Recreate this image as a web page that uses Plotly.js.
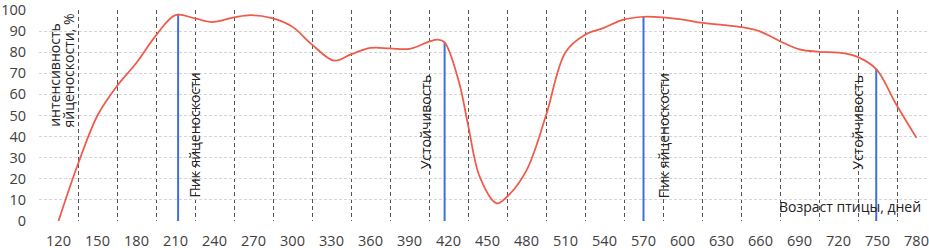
<!DOCTYPE html>
<html>
<head>
<meta charset="utf-8">
<script src="https://cdn.plot.ly/plotly-3.0.1.min.js"></script>
<style>html,body{margin:0;padding:0;background:#fff;}#chart{width:929px;height:248px;}</style>
</head>
<body>
<div id="chart"></div>
<script>
// Age of bird, days
const days = [120, 135, 150, 165, 180, 195, 210, 225, 238, 255, 268, 285, 300, 315, 332, 345, 360, 375, 390, 405, 412, 417, 428, 435, 444, 457, 465, 480, 495, 510, 525, 539, 554, 570, 585, 605, 614, 644, 659, 675, 690, 705, 720, 734, 749, 764, 780];
// Egg-laying intensity, %
const intensity = [0, 27, 50, 64, 75, 88, 97.6, 96, 94.3, 96.5, 97.6, 96, 92, 83.6, 76, 79, 82, 81.8, 81.6, 85, 86, 84.7, 66, 45.7, 21, 8.4, 11.5, 24, 50, 80, 88.3, 91.4, 95.3, 96.8, 96.5, 95, 94, 92, 90, 85.2, 81.3, 80.2, 79.8, 77.9, 72, 55.7, 39.4];

// Marked events
const eventDays = [212, 417, 570, 749];
const eventValues = [98.2, 84.7, 96.8, 72];
const eventLabels = ["Пик яйценоскости", "Устойчивость", "Пик яйценоскости", "Устойчивость"];

const xTickVals = [120, 150, 180, 210, 240, 270, 300, 330, 360, 390, 420, 450, 480, 510, 540, 570, 600, 630, 660, 690, 720, 750, 780];
const yTickVals = [0, 10, 20, 30, 40, 50, 60, 70, 80, 90, 100];

const yTitleLines = ["интенсивность", "яйценоскости, %"];
const xTitle = "Возраст птицы, дней";

const FONT = "'Open Sans', 'Liberation Sans', sans-serif";
const TXT = "#404040";

const traces = [];
eventDays.forEach((d, i) => {
  traces.push({
    x: [d, d], y: [0, eventValues[i]],
    type: "scatter", mode: "lines",
    line: {color: "#4170dc", width: 2},
    hoverinfo: "skip", showlegend: false
  });
});
traces.push({
  x: days, y: intensity,
  type: "scatter", mode: "lines",
  line: {color: "#f05a48", width: 1.75, shape: "spline", smoothing: 1},
  showlegend: false
});

// annotation positions (placement only)
const labelPos = [[225, 40.5], [402, 46.8], [585.5, 40.5], [734.6, 46.8]];
const annotations = eventLabels.map((t, i) => ({
  text: t, x: labelPos[i][0], y: labelPos[i][1], xref: "x", yref: "y",
  showarrow: false, textangle: -90, xanchor: "center", yanchor: "middle",
  font: {family: FONT, size: 14, color: "#222"}
}));
annotations.push({
  text: yTitleLines[0], x: 117, y: 43.5, xref: "x", yref: "y",
  showarrow: false, textangle: -90, xanchor: "center", yanchor: "bottom",
  font: {family: FONT, size: 14, color: "#222"}
});
annotations.push({
  text: yTitleLines[1], x: 127.5, y: 43.5, xref: "x", yref: "y",
  showarrow: false, textangle: -90, xanchor: "center", yanchor: "bottom",
  font: {family: FONT, size: 14, color: "#222"}
});
annotations.push({
  text: xTitle, x: 785, y: 6.7, xref: "x", yref: "y",
  showarrow: false, xanchor: "right", yanchor: "middle",
  font: {family: FONT, size: 14, color: "#222"}
});

const layout = {
  width: 929, height: 248,
  margin: {l: 39, r: 0, t: 10, b: 27, pad: 0},
  paper_bgcolor: "#fff", plot_bgcolor: "#fff",
  font: {family: FONT, size: 14, color: TXT},
  showlegend: false,
  xaxis: {
    range: [105, 789.6],
    tickmode: "array", tickvals: xTickVals, ticktext: xTickVals.map(String),
    ticks: "", showgrid: false, zeroline: false, showline: false,
    ticklabelstandoff: 9, ticklabeloverflow: "allow",
    tickfont: {family: FONT, size: 14.5, color: TXT},
    minor: {tickmode: "linear", tick0: 105, dtick: 30, showgrid: true,
            gridcolor: "#555", gridwidth: 1, griddash: "4px,3px", ticks: ""}
  },
  yaxis: {
    range: [0, 100],
    tickmode: "array", tickvals: yTickVals,
    ticks: "", showgrid: true, gridcolor: "#d6d6d6", gridwidth: 1, griddash: "3px,2px",
    zeroline: false, showline: false,
    ticklabelstandoff: 12, ticklabeloverflow: "allow",
    tickfont: {family: FONT, size: 14.5, color: TXT}
  },
  annotations: annotations
};

Plotly.newPlot("chart", traces, layout, {displayModeBar: false, staticPlot: true});
</script>
</body>
</html>
